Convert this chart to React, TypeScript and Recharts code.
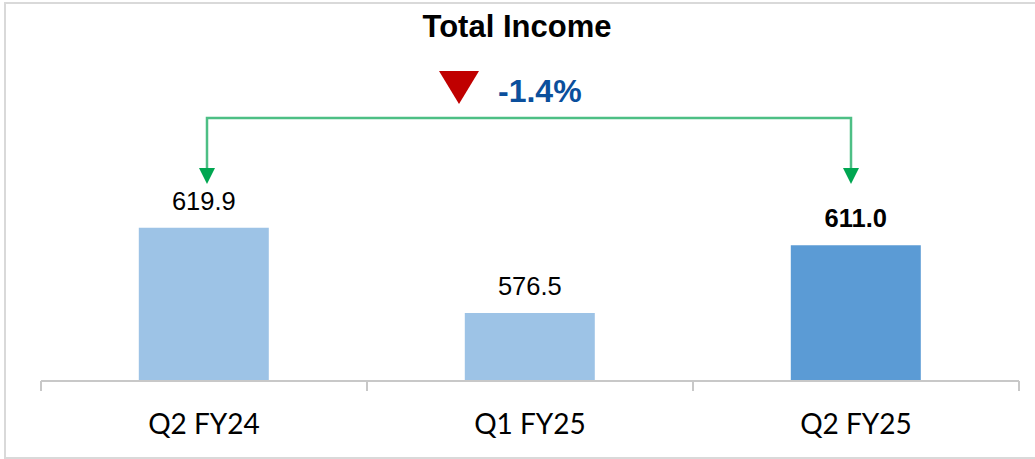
import { Bar, BarChart, Cell, Customized, LabelList, XAxis, YAxis } from "recharts";

const quarters = ["Q2 FY24", "Q1 FY25", "Q2 FY25"];
const income = [619.9, 576.5, 611.0];
const highlight = [false, false, true];
const changeLabel = "-1.4%";
const chartTitle = "Total Income";

const data = quarters.map((q, i) => ({ quarter: q, value: income[i], hl: highlight[i] }));

const W = 1035;
const H = 459;
const margin = { top: 70, right: 16, bottom: 8, left: 41 };
const axisH = 70;
const plotW = W - margin.left - margin.right;
const plotBottom = H - margin.bottom - axisH;
const band = plotW / quarters.length;
const center = (i: number) => margin.left + band * (i + 0.5);

const font = "'Liberation Sans', Arial, sans-serif";

function ValueLabel(props: any) {
  const { x, y, width, index, value } = props;
  const bold = highlight[index];
  return (
    <text
      x={x + width / 2}
      y={y - 18}
      textAnchor="middle"
      fontFamily={font}
      fontSize={25.5}
      fontWeight={bold ? 700 : 400}
      fill="#000"
    >
      {Number(value).toFixed(1)}
    </text>
  );
}

function Overlay() {
  const lineY = 118;
  const x1 = center(0) + 3;
  const x2 = center(quarters.length - 1) - 5;
  const tipY = 184;
  const ticks = Array.from({ length: quarters.length + 1 }, (_, i) => margin.left + band * i);
  return (
    <g>
      <rect x={5} y={3} width={W} height={H - 4} fill="none" stroke="#d9d9d9" strokeWidth={2} />
      <text x={517} y={37} textAnchor="middle" fontFamily={font} fontSize={31} fontWeight={700} fill="#000">
        {chartTitle}
      </text>
      {ticks.map((t) => (
        <line key={t} x1={t} x2={t} y1={plotBottom} y2={plotBottom + 10} stroke="#c8c8c8" strokeWidth={2} />
      ))}
      <polyline
        points={`${x1},${tipY - 14} ${x1},${lineY} ${x2},${lineY} ${x2},${tipY - 14}`}
        fill="none"
        stroke="#4dbf85"
        strokeWidth={2.5}
      />
      <polygon points={`${x1 - 8},${tipY - 16} ${x1 + 8},${tipY - 16} ${x1},${tipY}`} fill="#00a651" />
      <polygon points={`${x2 - 8},${tipY - 16} ${x2 + 8},${tipY - 16} ${x2},${tipY}`} fill="#00a651" />
      <polygon points="439,71 479,71 459,104" fill="#c00000" />
      <text x={498} y={102} fontFamily={font} fontSize={32} fontWeight={700} fill="#0b4f9c">
        {changeLabel}
      </text>
    </g>
  );
}

export default function App() {
  return (
    <div style={{ position: "absolute", left: 0, top: 0, width: W, height: H, background: "#fff" }}>
      <BarChart width={W} height={H} data={data} margin={margin} barCategoryGap="30%">
        <XAxis
          dataKey="quarter"
          height={axisH}
          axisLine={{ stroke: "#c8c8c8", strokeWidth: 2 }}
          tickLine={false}
          tickSize={0}
          tickMargin={33}
          tick={{ fill: "#000", fontSize: 28, fontFamily: "Lato, 'Liberation Sans', sans-serif" }}
          interval={0}
        />
        <YAxis hide domain={[542, 700]} allowDataOverflow />
        <Bar dataKey="value" isAnimationActive={false}>
          {data.map((d) => (
            <Cell key={d.quarter} fill={d.hl ? "#5b9bd5" : "#9dc3e6"} />
          ))}
          <LabelList dataKey="value" content={<ValueLabel />} />
        </Bar>
        <Customized component={<Overlay />} />
      </BarChart>
    </div>
  );
}
